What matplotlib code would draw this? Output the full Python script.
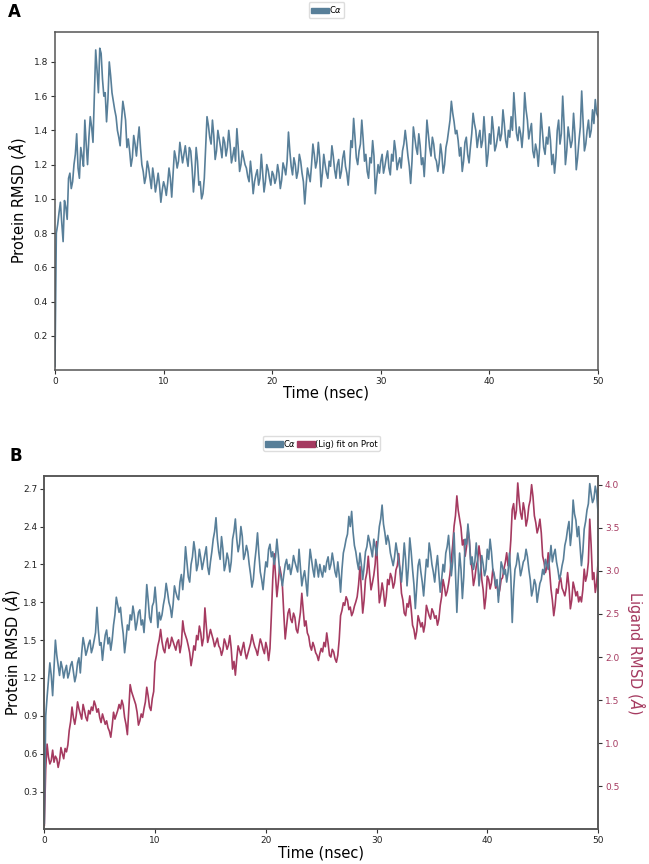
#!/usr/bin/env python3
"""
Protein / ligand RMSD over a 50 ns MD run (panels A and B)
"""

import numpy as np
import matplotlib
matplotlib.use('Agg')
import matplotlib.pyplot as plt
from matplotlib.patches import Patch

# colours used by the trajectory report
PROT_COLOR = '#587f99'
LIG_COLOR = '#a53a60'

# ---- panel A: C-alpha RMSD (A), frames every 0.25 ns ----
rmsd_a = [
    0.02, 0.85, 0.98, 0.75, 0.95, 1.12, 1.06, 1.20, 1.38, 1.12,
    1.25, 1.46, 1.20, 1.48, 1.33, 1.87, 1.62, 1.85, 1.60, 1.45,
    1.80, 1.62, 1.52, 1.40, 1.31, 1.57, 1.46, 1.35, 1.19, 1.37,
    1.25, 1.42, 1.20, 1.09, 1.22, 1.12, 1.18, 1.04, 1.15, 0.98,
    1.10, 1.02, 1.18, 1.01, 1.28, 1.18, 1.33, 1.21, 1.31, 1.19,
    1.28, 1.04, 1.30, 1.08, 1.00, 1.12, 1.48, 1.36, 1.46, 1.23,
    1.40, 1.30, 1.36, 1.25, 1.40, 1.21, 1.30, 1.41, 1.16, 1.28,
    1.20, 1.13, 1.22, 1.03, 1.14, 1.08, 1.26, 1.04, 1.20, 1.12,
    1.16, 1.09, 1.20, 1.06, 1.21, 1.14, 1.39, 1.19, 1.24, 1.12,
    1.26, 1.15, 0.97, 1.18, 1.10, 1.32, 1.18, 1.33, 1.07, 1.26,
    1.15, 1.22, 1.31, 1.17, 1.20, 1.12, 1.24, 1.19, 1.08, 1.34,
    1.47, 1.24, 1.28, 1.46, 1.22, 1.16, 1.24, 1.34, 1.03, 1.20,
    1.22, 1.15, 1.24, 1.18, 1.26, 1.34, 1.17, 1.24, 1.28, 1.40,
    1.25, 1.09, 1.42, 1.30, 1.38, 1.20, 1.13, 1.46, 1.30, 1.36,
    1.24, 1.16, 1.32, 1.15, 1.30, 1.40, 1.57, 1.45, 1.40, 1.25,
    1.16, 1.33, 1.26, 1.30, 1.50, 1.40, 1.36, 1.30, 1.48, 1.19,
    1.38, 1.48, 1.28, 1.36, 1.34, 1.52, 1.34, 1.40, 1.48, 1.62,
    1.38, 1.42, 1.30, 1.62, 1.46, 1.40, 1.28, 1.32, 1.19, 1.50,
    1.30, 1.36, 1.42, 1.20, 1.15, 1.40, 1.32, 1.60, 1.20, 1.42,
    1.30, 1.50, 1.17, 1.34, 1.63, 1.28, 1.40, 1.36, 1.52, 1.58,
    1.48,
]
# values read half-way between the frames above
rmsd_a_mid = [
    0.80, 0.92, 0.86, 0.99, 0.88, 1.15, 1.10, 1.26, 1.18, 1.30,
    1.19, 1.32, 1.36, 1.42, 1.60, 1.75, 1.88, 1.70, 1.62, 1.58,
    1.72, 1.57, 1.48, 1.36, 1.45, 1.52, 1.30, 1.28, 1.24, 1.32,
    1.34, 1.30, 1.16, 1.13, 1.18, 1.06, 1.12, 1.09, 1.08, 1.05,
    1.07, 1.09, 1.12, 1.14, 1.24, 1.22, 1.27, 1.26, 1.24, 1.30,
    1.18, 1.14, 1.22, 1.10, 1.03, 1.30, 1.43, 1.32, 1.37, 1.28,
    1.35, 1.24, 1.33, 1.30, 1.32, 1.25, 1.22, 1.30, 1.20, 1.24,
    1.18, 1.10, 1.14, 1.10, 1.17, 1.12, 1.15, 1.10, 1.17, 1.08,
    1.14, 1.12, 1.15, 1.11, 1.18, 1.22, 1.28, 1.14, 1.20, 1.16,
    1.22, 1.10, 1.08, 1.14, 1.20, 1.26, 1.22, 1.24, 1.15, 1.20,
    1.12, 1.19, 1.25, 1.12, 1.23, 1.16, 1.28, 1.15, 1.18, 1.30,
    1.36, 1.20, 1.32, 1.35, 1.26, 1.12, 1.21, 1.25, 1.12, 1.15,
    1.26, 1.19, 1.28, 1.14, 1.22, 1.28, 1.21, 1.18, 1.32, 1.33,
    1.19, 1.22, 1.36, 1.26, 1.31, 1.24, 1.28, 1.38, 1.25, 1.32,
    1.22, 1.21, 1.26, 1.20, 1.34, 1.46, 1.50, 1.38, 1.34, 1.30,
    1.22, 1.36, 1.21, 1.38, 1.44, 1.30, 1.40, 1.34, 1.36, 1.26,
    1.32, 1.40, 1.31, 1.42, 1.38, 1.44, 1.30, 1.36, 1.40, 1.50,
    1.34, 1.38, 1.40, 1.52, 1.35, 1.44, 1.24, 1.28, 1.30, 1.40,
    1.26, 1.32, 1.34, 1.26, 1.24, 1.46, 1.38, 1.44, 1.28, 1.36,
    1.34, 1.38, 1.24, 1.42, 1.46, 1.32, 1.46, 1.40, 1.44, 1.50,
]

# ---- panel B: C-alpha RMSD (left axis) ----
rmsd_b_prot = [
    0.05, 1.05, 1.32, 1.06, 1.50, 1.30, 1.33, 1.20, 1.30, 1.24,
    1.33, 1.17, 1.32, 1.24, 1.52, 1.38, 1.47, 1.40, 1.50, 1.76,
    1.46, 1.34, 1.54, 1.47, 1.42, 1.62, 1.84, 1.72, 1.64, 1.40,
    1.62, 1.70, 1.77, 1.58, 1.72, 1.62, 1.56, 1.94, 1.68, 1.77,
    1.92, 1.60, 1.66, 1.78, 1.95, 1.80, 1.68, 1.93, 1.84, 1.96,
    1.90, 2.24, 2.00, 2.10, 2.28, 2.05, 2.22, 2.06, 2.18, 2.08,
    2.12, 2.30, 2.47, 2.20, 2.32, 2.05, 2.19, 2.04, 2.30, 2.46,
    2.20, 2.40, 2.14, 2.25, 2.10, 1.92, 2.12, 2.35, 2.04, 1.90,
    2.12, 2.22, 2.16, 2.10, 2.30, 2.04, 1.93, 2.10, 2.06, 2.02,
    2.17, 2.08, 2.22, 1.93, 2.05, 1.85, 2.22, 2.06, 2.14, 2.00,
    2.04, 2.09, 2.12, 2.06, 2.19, 2.04, 2.12, 1.88, 2.19, 2.30,
    2.48, 2.52, 2.25, 2.12, 2.19, 1.98, 2.20, 2.33, 2.22, 2.30,
    2.17, 2.40, 2.57, 2.35, 2.33, 2.19, 2.09, 2.27, 2.12, 1.96,
    2.27, 1.93, 2.31, 2.06, 1.75, 2.09, 2.04, 1.85, 2.14, 2.27,
    2.10, 1.96, 2.17, 1.88, 2.10, 2.19, 2.33, 2.01, 2.35, 1.72,
    2.19, 1.83, 2.30, 2.42, 2.10, 2.06, 2.27, 1.93, 2.17, 2.01,
    2.22, 2.30, 2.06, 1.93, 1.80, 2.12, 2.02, 1.96, 2.19, 1.64,
    2.06, 2.19, 2.01, 2.12, 2.22, 2.06, 1.85, 1.98, 1.80, 1.95,
    2.06, 2.14, 2.06, 2.25, 2.18, 2.12, 1.98, 2.09, 2.25, 2.38,
    2.25, 2.61, 2.45, 2.40, 2.09, 2.38, 2.53, 2.74, 2.59, 2.72,
    2.51,
]
rmsd_b_prot_mid = [
    0.90, 1.18, 1.22, 1.28, 1.38, 1.22, 1.28, 1.26, 1.20, 1.30,
    1.25, 1.22, 1.36, 1.40, 1.46, 1.42, 1.50, 1.44, 1.56, 1.58,
    1.48, 1.45, 1.58, 1.52, 1.50, 1.70, 1.78, 1.76, 1.55, 1.50,
    1.58, 1.66, 1.70, 1.64, 1.74, 1.66, 1.72, 1.82, 1.64, 1.80,
    1.78, 1.72, 1.70, 1.84, 1.88, 1.76, 1.78, 1.88, 1.82, 2.02,
    2.04, 2.12, 1.96, 2.16, 2.20, 2.10, 2.15, 2.12, 2.24, 2.02,
    2.20, 2.36, 2.30, 2.14, 2.22, 2.10, 2.14, 2.12, 2.36, 2.30,
    2.26, 2.32, 2.18, 2.20, 2.02, 1.98, 2.22, 2.18, 1.98, 2.02,
    2.08, 2.26, 2.20, 2.16, 2.18, 2.00, 2.02, 2.14, 2.10, 2.08,
    2.12, 2.04, 2.08, 2.00, 1.96, 2.06, 2.14, 2.00, 2.08, 2.10,
    2.00, 2.04, 2.16, 2.10, 2.12, 2.00, 2.02, 2.06, 2.24, 2.34,
    2.40, 2.36, 2.20, 2.06, 2.10, 2.08, 2.24, 2.28, 2.16, 2.24,
    2.28, 2.46, 2.42, 2.26, 2.28, 2.14, 2.16, 2.20, 2.06, 2.10,
    2.14, 2.08, 2.20, 1.94, 1.92, 2.14, 1.96, 2.00, 2.08, 2.20,
    2.04, 2.08, 2.02, 1.98, 2.04, 2.24, 2.18, 2.12, 2.04, 1.98,
    2.06, 2.00, 2.26, 2.30, 2.16, 2.12, 2.14, 2.04, 2.10, 2.06,
    2.14, 2.20, 2.02, 1.98, 1.94, 2.08, 2.06, 2.04, 2.00, 1.90,
    2.10, 2.12, 2.06, 2.14, 2.16, 1.98, 1.90, 1.94, 1.88, 1.98,
    2.02, 2.10, 2.14, 2.12, 2.22, 2.06, 2.02, 2.14, 2.30, 2.44,
    2.36, 2.50, 2.32, 2.24, 2.20, 2.44, 2.58, 2.66, 2.62, 2.66,
]

# ---- panel B: ligand RMSD fit on protein (right axis) ----
rmsd_b_lig = [
    0.05, 0.99, 0.76, 0.92, 0.85, 0.72, 0.95, 0.82, 0.90, 1.15,
    1.42, 1.22, 1.48, 1.34, 1.45, 1.30, 1.38, 1.42, 1.49, 1.36,
    1.30, 1.34, 1.22, 1.18, 1.07, 1.36, 1.33, 1.45, 1.50, 1.30,
    1.10, 1.68, 1.55, 1.45, 1.21, 1.34, 1.40, 1.65, 1.42, 1.52,
    1.94, 2.13, 2.32, 2.09, 2.17, 2.10, 2.23, 2.13, 2.17, 2.05,
    2.42, 2.25, 2.13, 1.90, 2.13, 2.25, 2.36, 2.13, 2.57, 2.17,
    2.32, 2.20, 2.17, 2.13, 2.02, 2.21, 2.09, 2.25, 1.86, 1.79,
    2.13, 2.02, 2.17, 1.98, 2.10, 2.26, 2.12, 2.02, 2.21, 2.09,
    2.17, 1.96, 2.48, 3.20, 2.70, 3.05, 2.82, 2.21, 2.51, 2.44,
    2.51, 2.32, 2.40, 2.74, 2.36, 2.28, 2.13, 2.17, 2.05, 1.96,
    2.10, 2.17, 2.28, 2.02, 2.09, 1.98, 2.02, 2.48, 2.63, 2.70,
    2.55, 2.48, 2.59, 2.70, 3.05, 2.51, 2.90, 3.17, 2.78, 2.95,
    3.34, 2.63, 2.86, 2.59, 2.90, 2.97, 2.80, 3.01, 3.20, 2.74,
    2.51, 2.62, 2.71, 2.37, 2.21, 2.48, 2.35, 2.29, 2.60, 2.48,
    2.56, 2.45, 2.37, 2.60, 2.90, 2.71, 2.85, 3.13, 3.52, 3.87,
    3.60, 3.30, 3.17, 3.48, 3.13, 2.83, 3.05, 3.29, 2.90, 2.56,
    2.94, 2.79, 3.02, 2.80, 2.71, 2.90, 3.02, 3.21, 3.13, 3.71,
    3.60, 4.02, 3.67, 3.79, 3.52, 3.75, 4.00, 3.64, 3.44, 3.60,
    3.17, 2.98, 3.21, 2.79, 2.48, 2.79, 2.87, 2.80, 2.71, 2.98,
    2.56, 2.87, 2.71, 2.64, 2.64, 3.02, 2.95, 3.60, 2.90, 2.75,
    3.10,
]
rmsd_b_lig_mid = [
    0.70, 0.84, 0.80, 0.78, 0.82, 0.80, 0.88, 0.94, 0.98, 1.25,
    1.30, 1.32, 1.40, 1.28, 1.38, 1.26, 1.34, 1.38, 1.44, 1.40,
    1.24, 1.28, 1.26, 1.14, 1.20, 1.28, 1.38, 1.40, 1.44, 1.22,
    1.38, 1.60, 1.50, 1.36, 1.26, 1.30, 1.48, 1.55, 1.38, 1.60,
    2.02, 2.20, 2.18, 2.05, 2.22, 2.14, 2.18, 2.08, 2.20, 2.15,
    2.30, 2.20, 2.05, 2.00, 2.08, 2.20, 2.28, 2.22, 2.36, 2.24,
    2.26, 2.12, 2.22, 2.10, 2.08, 2.16, 2.14, 2.10, 1.95, 1.98,
    2.08, 2.10, 2.06, 2.04, 2.16, 2.18, 2.08, 2.12, 2.16, 2.04,
    2.10, 2.10, 2.90, 2.95, 2.86, 2.96, 2.50, 2.36, 2.56, 2.40,
    2.46, 2.28, 2.52, 2.55, 2.42, 2.24, 2.08, 2.12, 2.02, 2.04,
    2.06, 2.12, 2.16, 2.00, 2.06, 1.94, 2.20, 2.54, 2.60, 2.66,
    2.58, 2.52, 2.64, 2.84, 2.78, 2.66, 2.98, 2.96, 2.86, 3.08,
    2.94, 2.72, 2.76, 2.70, 2.84, 2.92, 2.86, 3.06, 2.98, 2.66,
    2.48, 2.58, 2.56, 2.32, 2.30, 2.42, 2.40, 2.38, 2.54, 2.44,
    2.52, 2.48, 2.44, 2.70, 2.82, 2.76, 2.96, 3.30, 3.64, 3.70,
    3.50, 3.36, 3.28, 3.36, 3.02, 2.92, 3.12, 3.16, 2.78, 2.70,
    2.90, 2.86, 2.94, 2.86, 2.78, 2.92, 3.10, 3.06, 3.36, 3.78,
    3.70, 3.82, 3.60, 3.70, 3.60, 3.82, 3.86, 3.56, 3.50, 3.44,
    3.10, 3.04, 3.00, 2.66, 2.60, 2.74, 2.92, 2.76, 2.80, 2.82,
    2.66, 2.80, 2.76, 2.70, 2.78, 2.88, 3.10, 3.30, 2.98, 2.86,
]

t_end = 50.0
x_ticks = [0, 10, 20, 30, 40, 50]
yticks_a = [0.2, 0.4, 0.6, 0.8, 1.0, 1.2, 1.4, 1.6, 1.8]
yticks_b = [0.3, 0.6, 0.9, 1.2, 1.5, 1.8, 2.1, 2.4, 2.7]
yticks_lig = [0.5, 1.0, 1.5, 2.0, 2.5, 3.0, 3.5, 4.0]


def merge_frames(frames, between):
    """put the half-way readings back between the frame readings"""
    out = np.empty(len(frames) + len(between))
    out[0::2] = frames
    out[1::2] = between
    return out


series_a = merge_frames(rmsd_a, rmsd_a_mid)
series_prot = merge_frames(rmsd_b_prot, rmsd_b_prot_mid)
series_lig = merge_frames(rmsd_b_lig, rmsd_b_lig_mid)
time_a = np.linspace(0, t_end, len(series_a))
time_b = np.linspace(0, t_end, len(series_prot))

plt.rcParams['font.family'] = 'DejaVu Sans'
plt.rcParams['axes.linewidth'] = 1.1
plt.rcParams['axes.edgecolor'] = '#555555'


def style_axis(ax):
    ax.tick_params(axis='both', labelsize=6.5, length=3, width=0.8, pad=2,
                   colors='#333333', labelcolor='#222222')
    ax.set_xlim(0, t_end)
    ax.set_xticks(x_ticks)
    ax.set_xlabel('Time (nsec)', fontsize=10.5, labelpad=0)


fig = plt.figure(figsize=(6.49, 8.64), dpi=100)

# ---- panel A ----
ax1 = fig.add_axes([0.0847, 0.5718, 0.8367, 0.3912])
ax1.plot(time_a, series_a, color=PROT_COLOR, linewidth=1.2)
style_axis(ax1)
ax1.set_ylim(0, 1.975)
ax1.set_yticks(yticks_a)
ax1.set_ylabel(r'Protein RMSD ($\AA$)', fontsize=10.5, labelpad=4)
ax1.legend(handles=[Patch(color=PROT_COLOR, label=r'C$\alpha$')],
           loc='center', bbox_to_anchor=(0.5, 1.065), fontsize=6,
           handlelength=2.2, handletextpad=0.0, borderpad=0.25,
           framealpha=1, edgecolor='#dddddd')
fig.text(0.012, 0.986, 'A', fontsize=12, fontweight='bold', va='center')

# ---- panel B ----
ax2 = fig.add_axes([0.0683, 0.040, 0.8532, 0.409])
ax2.plot(time_b, series_prot, color=PROT_COLOR, linewidth=1.2)
style_axis(ax2)
ax2.set_ylim(0, 2.8)
ax2.set_yticks(yticks_b)
ax2.set_ylabel(r'Protein RMSD ($\AA$)', fontsize=10.5, labelpad=0.5)

ax3 = ax2.twinx()
ax3.plot(time_b, series_lig, color=LIG_COLOR, linewidth=1.2)
ax3.set_ylim(0, 4.1)
ax3.set_yticks(yticks_lig)
ax3.tick_params(axis='y', labelsize=6.5, length=3, width=0.8, pad=2,
                colors='#333333', labelcolor=LIG_COLOR)
ax3.set_ylabel(r'Ligand RMSD ($\AA$)', fontsize=10.5, color=LIG_COLOR,
               rotation=270, va='bottom', labelpad=4)
ax2.set_zorder(ax3.get_zorder() + 1)
ax2.patch.set_visible(False)

ax2.legend(handles=[Patch(color=PROT_COLOR, label=r'C$\alpha$'),
                    Patch(color=LIG_COLOR, label='(Lig) fit on Prot')],
           loc='center', bbox_to_anchor=(0.5, 1.093), fontsize=6, ncol=2,
           handlelength=2.2, handletextpad=0.0, columnspacing=0.0,
           borderpad=0.25, framealpha=1, edgecolor='#dddddd')
fig.text(0.014, 0.472, 'B', fontsize=12, fontweight='bold', va='center')

fig.savefig('out.png', dpi=100)
print("saved out.png")
